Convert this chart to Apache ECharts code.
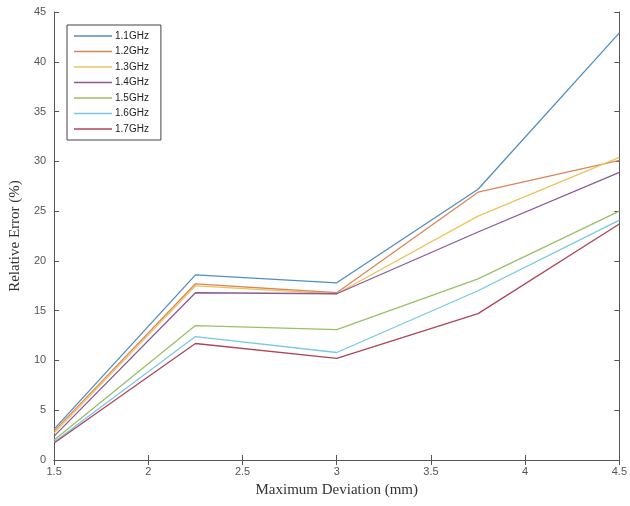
<!DOCTYPE html>
<html>
<head>
<meta charset="utf-8">
<script src="https://cdn.jsdelivr.net/npm/echarts@6/dist/echarts.min.js"></script>
<style>
  html, body { margin: 0; padding: 0; background: #fff; }
  #chart { width: 630px; height: 506px; }
</style>
</head>
<body>
<div id="chart"></div>
<script>
// x 位置 (mm)
var deviation = [1.5, 2.25, 3, 3.75, 4.5]
var seriesNames = ['1.1GHz', '1.2GHz', '1.3GHz', '1.4GHz', '1.5GHz', '1.6GHz', '1.7GHz']
var err11 = [3.1, 18.6, 17.8, 27.2, 42.9]
var err12 = [2.9, 17.7, 16.8, 26.9, 30.1]
var err13 = [2.7, 17.5, 16.7, 24.5, 30.4]
var err14 = [2.4, 16.8, 16.7, 22.9, 28.9]
var err15 = [2.0, 13.5, 13.1, 18.2, 25.0]
var err16 = [1.8, 12.4, 10.8, 17.0, 24.1]
var err17 = [1.7, 11.7, 10.2, 14.7, 23.7]
var colors = ['#4f8fc2', '#dc855a', '#ecc35e', '#8a5a98', '#98c166', '#79c8ea', '#b04458']

var allErr = [err11, err12, err13, err14, err15, err16, err17]

var myChart = echarts.init(document.getElementById('chart'))

var axisLineStyle = { color: '#555', width: 1 }
var tickStyle = { show: true, inside: true, length: 5, lineStyle: { color: '#555' } }

var option = {
    animation: false,
    backgroundColor: '#fff',
    grid: { left: 54, right: 9, top: 12, bottom: 46 },
    legend: {
        orient: 'vertical',
        left: 67,
        top: 25,
        padding: [5, 12, 5, 7],
        itemGap: 3.5,
        itemWidth: 38,
        itemHeight: 1.5,
        icon: 'rect',
        backgroundColor: '#fff',
        borderColor: '#444',
        borderWidth: 1,
        borderRadius: 0,
        textStyle: { fontFamily: 'Liberation Sans', fontSize: 10, color: '#222', lineHeight: 12, padding: [0, 0, 0, -2] },
        data: seriesNames,
    },
    xAxis: [
        {
            type: 'value',
            min: 1.5,
            max: 4.5,
            interval: 0.5,
            name: 'Maximum Deviation (mm)',
            nameLocation: 'middle',
            nameGap: 23,
            nameTextStyle: { fontFamily: 'Liberation Serif', fontSize: 15, color: '#333' },
            axisLine: { show: true, lineStyle: axisLineStyle },
            axisTick: tickStyle,
            axisLabel: { fontFamily: 'Liberation Sans', fontSize: 11, color: '#555', margin: 6 },
            splitLine: { show: false },
        },
        {
            type: 'value',
            position: 'top',
            min: 1.5,
            max: 4.5,
            interval: 0.5,
            axisLine: { show: true, lineStyle: axisLineStyle },
            axisTick: tickStyle,
            axisLabel: { show: false },
            splitLine: { show: false },
        },
    ],
    yAxis: [
        {
            type: 'value',
            min: 0,
            max: 45,
            interval: 5,
            name: 'Relative Error (%)',
            nameLocation: 'middle',
            nameGap: 29,
            nameTextStyle: { fontFamily: 'Liberation Serif', fontSize: 15, color: '#333' },
            axisLine: { show: true, lineStyle: axisLineStyle },
            axisTick: tickStyle,
            axisLabel: { fontFamily: 'Liberation Sans', fontSize: 11, color: '#555', margin: 8 },
            splitLine: { show: false },
        },
        {
            type: 'value',
            position: 'right',
            min: 0,
            max: 45,
            interval: 5,
            axisLine: { show: true, lineStyle: axisLineStyle },
            axisTick: tickStyle,
            axisLabel: { show: false },
            splitLine: { show: false },
        },
    ],
    series: seriesNames.map(function (name, i) {
        return {
            name: name,
            type: 'line',
            symbol: 'none',
            smooth: false,
            color: colors[i],
            lineStyle: { color: colors[i], width: 1.3 },
            data: deviation.map(function (x, j) { return [x, allErr[i][j]] }),
        }
    }),
}

myChart.setOption(option)
</script>
</body>
</html>
